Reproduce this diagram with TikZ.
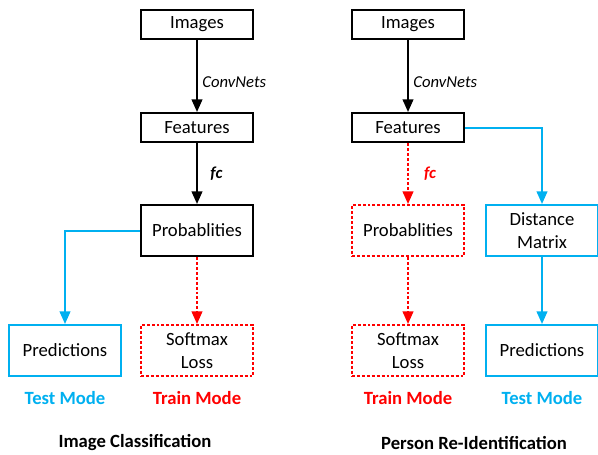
\documentclass[tikz,border=0pt]{standalone}
\usepackage{fontspec}
\setmainfont{Carlito}
\usepackage{tikz}
\usetikzlibrary{arrows.meta, positioning}
\definecolor{testblue}{RGB}{0,176,240}
\definecolor{trainred}{RGB}{255,0,0}
\newcommand\boxfont{\fontsize{14}{17}\selectfont}
\newcommand\edgefont{\fontsize{12.5}{15}\selectfont}
\tikzset{
    box/.style = {rectangle, draw, line width=1.5pt, minimum width=84pt, minimum height=21.75pt, inner sep=2pt, align=center, font=\boxfont},% boxes of the flow
    tallbox/.style = {box, minimum height=38.25pt},
    train/.style = {draw=trainred, dash pattern=on 2.2pt off 1.5pt},
    test/.style = {draw=testblue},
    flow/.style = {line width=1.5pt, -{Triangle[width=8pt,length=9.5pt]}},
    mode/.style = {font=\boxfont\bfseries},
    title/.style = {font=\boxfont\bfseries}
}
\begin{document}
\begin{tikzpicture}[x=0.75pt, y=-0.75pt]
    \useasboundingbox (0,0) rectangle (598,454);
    % image classification
    \node[box] (img1) at (197,24.5) {Images};
    \node[box] (feat1) [below=54pt of img1] {Features};
    \node[tallbox] (prob1) [below=45.75pt of feat1] {Probablities};
    \node[tallbox, train] (soft1) [below=50.25pt of prob1] {Softmax\\Loss};
    \node[tallbox, test] (pred1) [left=13.5pt of soft1] {Predictions};
    \node[mode, text=testblue] (test1) [below=7.5pt of pred1] {Test Mode};
    \node[mode, text=trainred] (train1) [below=7.5pt of soft1] {Train Mode};
    \node[title] (cls) at (135,443) {Image Classification};
    \path[flow] (img1) edge node[right, pos=0.58, font=\edgefont\itshape] {ConvNets} (feat1);
    \path[flow] (feat1) edge node[right, xshift=6pt, font=\edgefont\bfseries\itshape] {fc} (prob1);
    \draw[flow, testblue] (prob1.west) -| (pred1.north);
    \draw[flow, trainred, dash pattern=on 2.2pt off 1.5pt] (prob1) -- (soft1);
    % person re-identification
    \node[box] (img2) [right=72.75pt of img1] {Images};
    \node[box] (feat2) [below=54pt of img2] {Features};
    \node[tallbox, train] (prob2) [below=45.75pt of feat2] {Probablities};
    \node[tallbox, test] (dist) [right=15pt of prob2] {Distance\\Matrix};
    \node[tallbox, train] (soft2) [below=50.25pt of prob2] {Softmax\\Loss};
    \node[tallbox, test] (pred2) [below=50.25pt of dist] {Predictions};
    \node[mode, text=trainred] (train2) [below=7.5pt of soft2] {Train Mode};
    \node[mode, text=testblue] (test2) [below=7.5pt of pred2] {Test Mode};
    \node[title] (reid) at (474,443) {Person Re-Identification};
    \path[flow] (img2) edge node[right, pos=0.58, font=\edgefont\itshape] {ConvNets} (feat2);
    \draw[flow, trainred, dash pattern=on 2.2pt off 1.5pt] (feat2) -- node[right, xshift=8pt, font=\edgefont\bfseries\itshape] {fc} (prob2);
    \draw[flow, testblue] (feat2.east) -| (dist.north);
    \draw[flow, testblue] (dist) -- (pred2);
    \draw[flow, trainred, dash pattern=on 2.2pt off 1.5pt] (prob2) -- (soft2);
\end{tikzpicture}
\end{document}
